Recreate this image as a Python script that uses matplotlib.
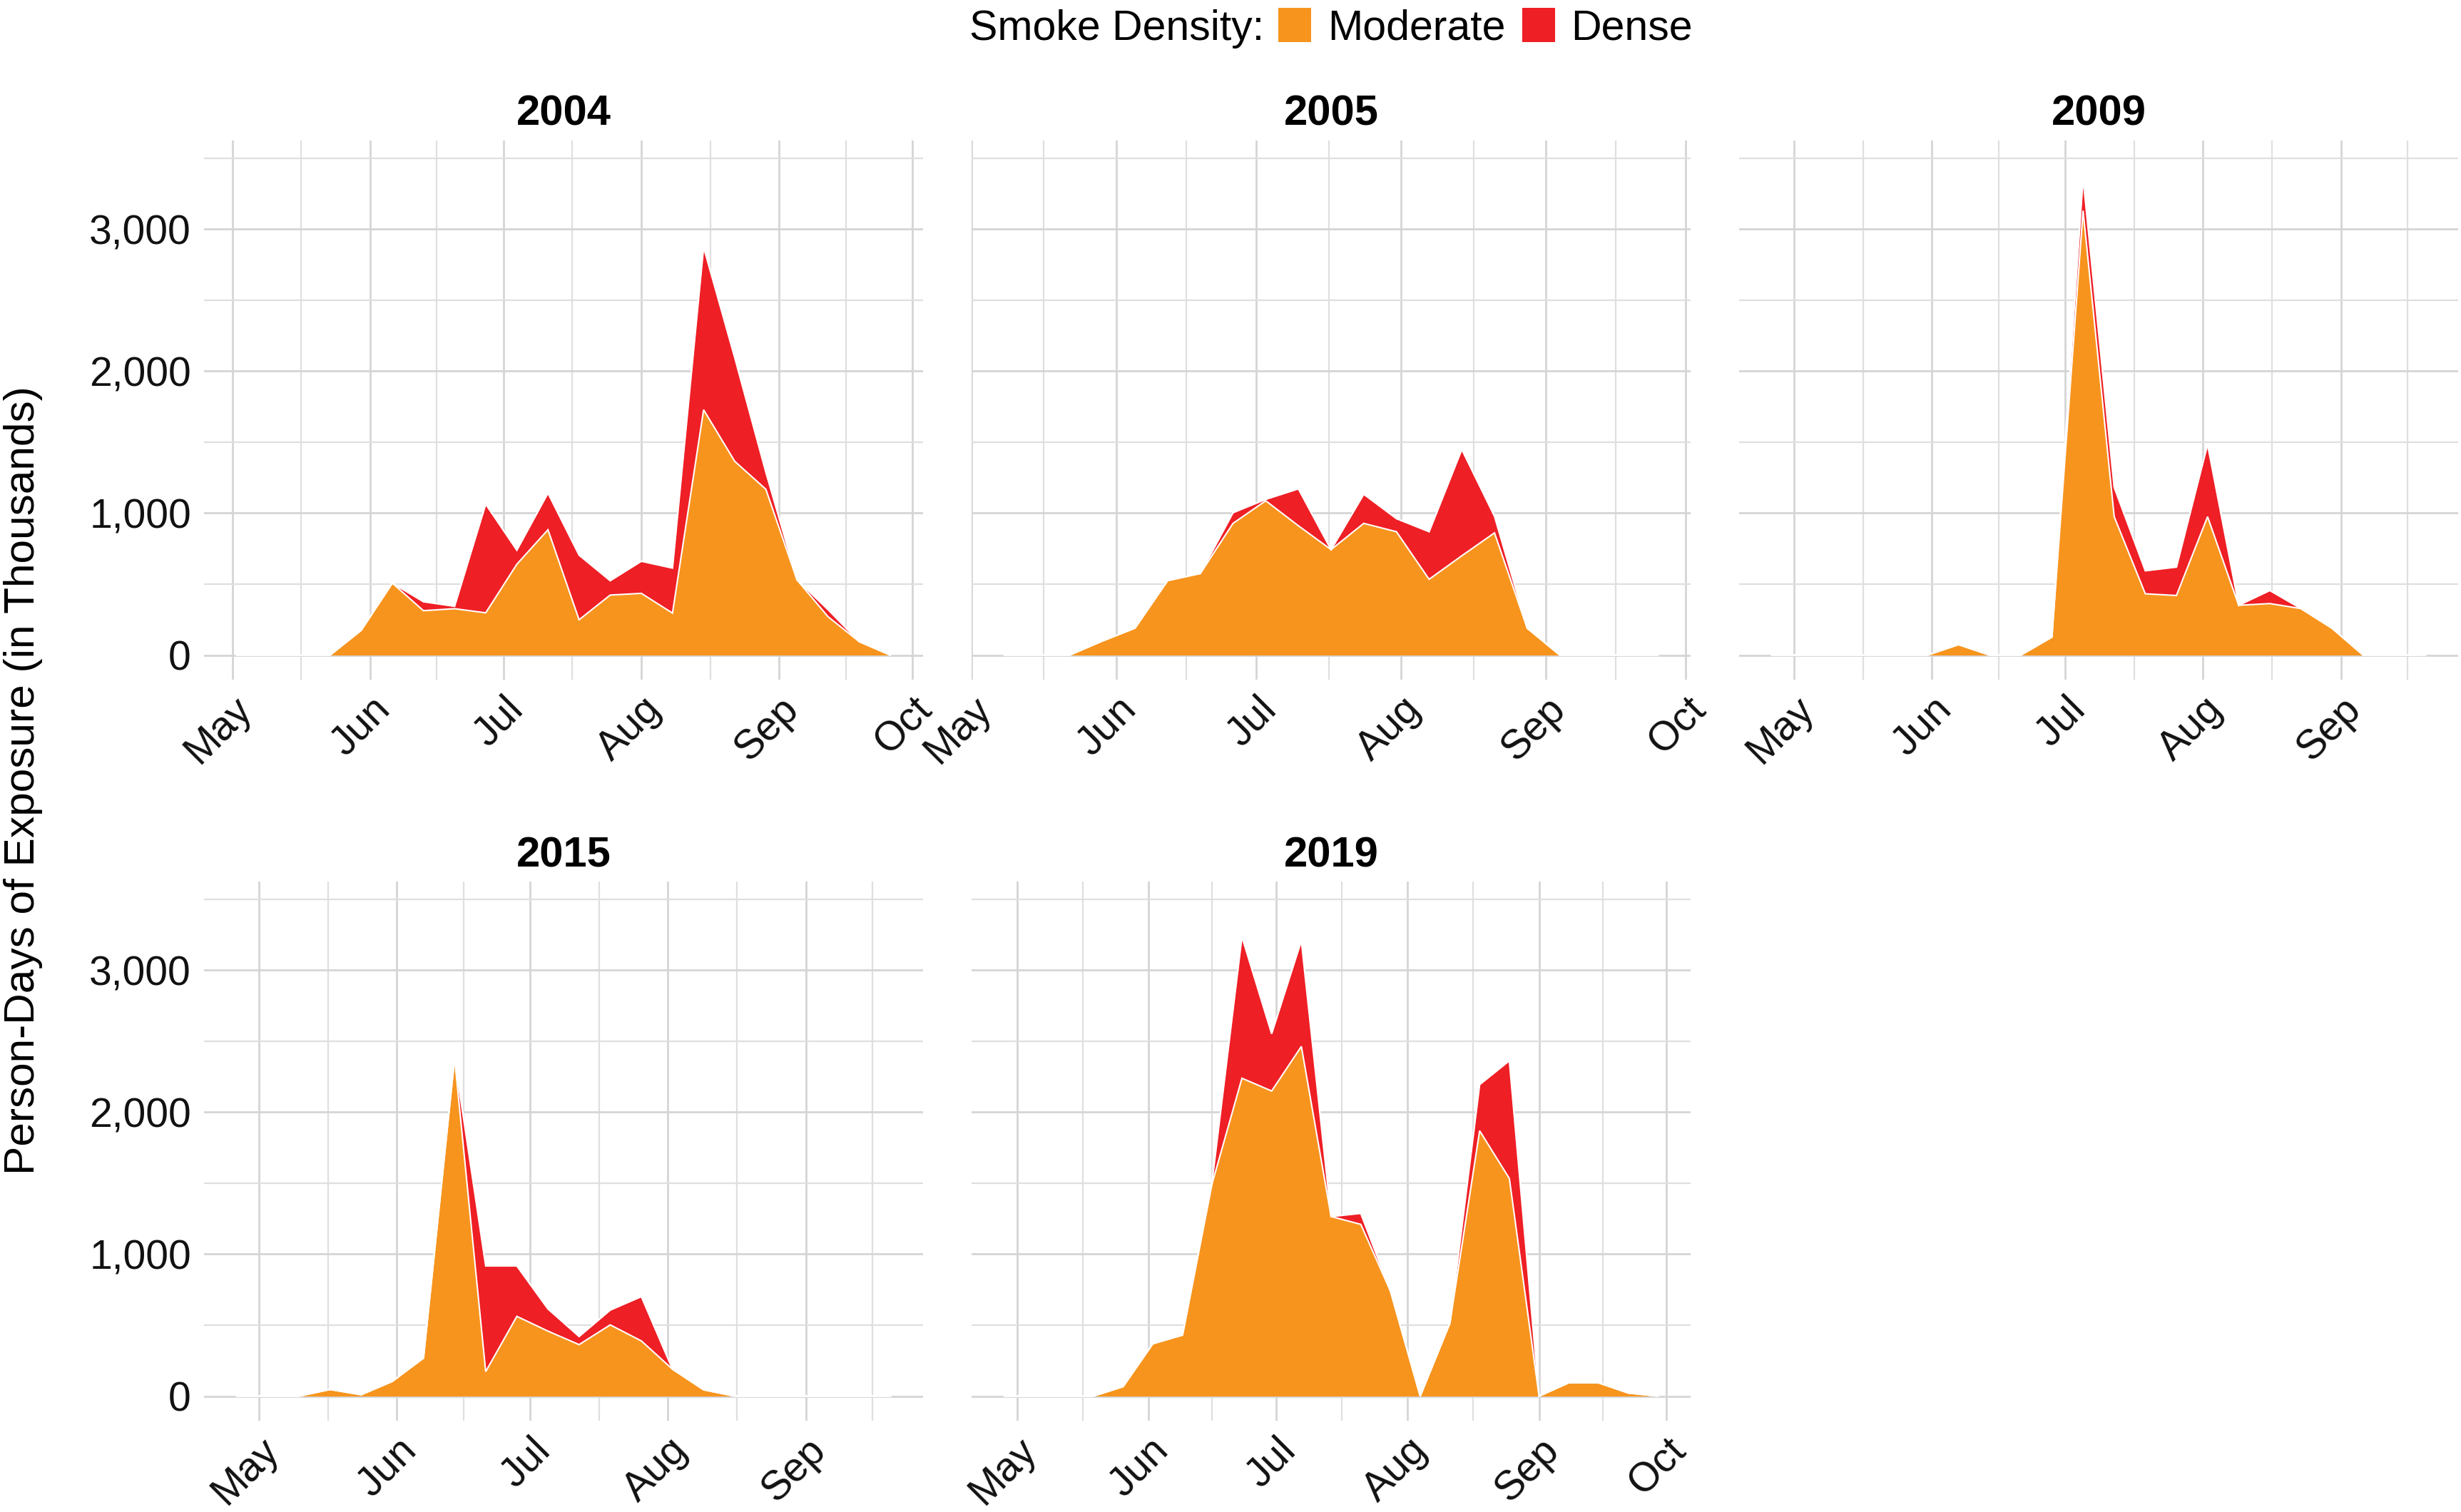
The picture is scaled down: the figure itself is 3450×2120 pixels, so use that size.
import matplotlib
matplotlib.use("Agg")
import matplotlib.pyplot as plt
import matplotlib.dates as mdates
import numpy as np
import pandas as pd
import datetime as dt
from matplotlib.patches import Rectangle

W, H, DPI = 3450, 2120, 100

# ---------------- data (weekly, Sundays; person-days in thousands) ----------------
years = ["2004", "2005", "2009", "2015", "2019"]
start_dates = ["2004-05-02", "2005-05-08", "2009-04-26", "2015-04-26", "2019-04-28"]

moderate_2004 = [0, 0, 0, 0, 175, 507, 313, 327, 298, 640, 883, 249, 423, 435, 296, 1728, 1365, 1168, 530, 270, 95, 0]
dense_2004 = [0, 0, 0, 0, 0, 0, 63, 17, 765, 99, 258, 455, 101, 226, 317, 1145, 730, 120, 0, 50, 0, 0]

moderate_2005 = [0, 0, 0, 99, 190, 525, 575, 928, 1087, 911, 743, 928, 869, 534, 700, 861, 190, 0, 0, 0, 0]
dense_2005 = [0, 0, 0, 0, 0, 0, 0, 75, 10, 260, 0, 205, 92, 335, 748, 117, 0, 0, 0, 0, 0]

moderate_2009 = [0, 0, 0, 0, 0, 0, 74, 0, 0, 127, 3130, 975, 432, 420, 975, 351, 363, 328, 189, 0, 0, 0]
dense_2009 = [0, 0, 0, 0, 0, 0, 0, 0, 0, 0, 230, 207, 162, 200, 508, 0, 92, 0, 0, 0, 0, 0]

moderate_2015 = [0, 0, 0, 47, 10, 104, 268, 2379, 173, 562, 458, 363, 502, 389, 190, 45, 0, 0, 0, 0, 0, 0]
dense_2015 = [0, 0, 0, 0, 0, 0, 0, 0, 744, 355, 156, 57, 104, 312, 0, 0, 0, 0, 0, 0, 0, 0]

moderate_2019 = [0, 0, 0, 0, 67, 369, 430, 1500, 2239, 2149, 2463, 1265, 1210, 739, 0, 515, 1869, 1533, 0, 94, 94, 22, 0]
dense_2019 = [0, 0, 0, 0, 0, 0, 0, 20, 996, 403, 744, 0, 77, 0, 0, 0, 325, 829, 0, 0, 0, 0, 0]

moderate = [moderate_2004, moderate_2005, moderate_2009, moderate_2015, moderate_2019]
dense = [dense_2004, dense_2005, dense_2009, dense_2015, dense_2019]

series_labels = ["Moderate", "Dense"]
legend_title = "Smoke Density:"
y_label = "Person-Days of Exposure (in Thousands)"
y_major = [0, 1000, 2000, 3000]
y_minor = [500, 1500, 2500, 3500]

# ---------------- style ----------------
ORANGE = "#F7941E"
RED = "#EE1F25"
GRID_MAJ = "#D5D5D5"
GRID_MIN = "#DFDFDF"
TXT = "#111111"
plt.rcParams["font.family"] = ["Liberation Sans", "DejaVu Sans"]

fig = plt.figure(figsize=(W / DPI, H / DPI), dpi=DPI)
fig.patch.set_facecolor("white")


def px_box(left, top, w, h):
    return [left / W, 1 - (top + h) / H, w / W, h / H]


col_left = [286, 1362, 2438]
row_top = [197, 1236]
PW, PH = 1008, 756
YLIM = (-173, 3624)
positions = [(0, 0), (0, 1), (0, 2), (1, 0), (1, 1)]

for i, yr in enumerate(years):
    r, c = positions[i]
    ax = fig.add_axes(px_box(col_left[c], row_top[r], PW, PH))
    mod = np.array(moderate[i], float)
    den = np.array(dense[i], float)
    dates = pd.date_range(start_dates[i], periods=len(mod), freq="7D").to_pydatetime()
    x = mdates.date2num(dates)
    span = x[-1] - x[0]
    xlo, xhi = x[0] - 0.05 * span, x[-1] + 0.05 * span
    ax.set_xlim(xlo, xhi)
    ax.set_ylim(*YLIM)

    y0 = int(yr)
    month_starts = [mdates.date2num(dt.datetime(y0, m, 1)) for m in range(3, 12)]
    majors = [m for m in month_starts if xlo <= m <= xhi]
    minors = [(a + b) / 2 for a, b in zip(month_starts[:-1], month_starts[1:])]
    minors = [m for m in minors if xlo <= m <= xhi]
    ax.set_xticks(majors)
    ax.set_xticks(minors, minor=True)
    ax.set_xticklabels([mdates.num2date(m).strftime("%b") for m in majors])
    ax.set_yticks(y_major)
    ax.set_yticks(y_minor, minor=True)

    ax.set_axisbelow(True)
    ax.grid(which="major", color=GRID_MAJ, lw=2.0)
    ax.grid(which="minor", color=GRID_MIN, lw=1.6)
    for s in ax.spines.values():
        s.set_visible(False)

    ax.fill_between(x, 0, mod, color=ORANGE, lw=0, zorder=2)
    ax.fill_between(x, mod, mod + den, color=RED, lw=0, zorder=2)
    ax.plot(x, mod + den, color="white", lw=1.6, zorder=3, solid_joinstyle="miter")
    ax.plot(x, mod, color="white", lw=1.5, zorder=3, solid_joinstyle="miter")

    ax.tick_params(axis="both", which="both", length=0)
    ax.tick_params(axis="x", pad=10, labelsize=41, labelcolor=TXT)
    ax.tick_params(axis="y", pad=13, labelsize=41, labelcolor=TXT)
    for lab in ax.get_xticklabels():
        lab.set_rotation(45)
        lab.set_ha("right")
        lab.set_va("top")
        lab.set_rotation_mode("anchor")
    if c == 0:
        ax.set_yticklabels([f"{v:,}" for v in y_major])
    else:
        ax.set_yticklabels([])

    fig.text((col_left[c] + PW / 2) / W, 1 - (row_top[r] - 21) / H, yr,
             ha="center", va="baseline", fontsize=43, fontweight="bold", color="black")

fig.text(48 / W, 1 - 1094 / H, y_label, rotation=90, rotation_mode="anchor",
         ha="center", va="baseline", fontsize=43.5, color="black")

# ---------------- legend (top, centred over panels) ----------------
renderer = fig.canvas.get_renderer()
base_y = 1 - 56 / H
fs = 42.5
t_title = fig.text(0, base_y, legend_title, ha="left", va="baseline", fontsize=fs, color="black")
t_mod = fig.text(0, base_y, series_labels[0], ha="left", va="baseline", fontsize=fs, color="black")
t_den = fig.text(0, base_y, series_labels[1], ha="left", va="baseline", fontsize=fs, color="black")
w_title = t_title.get_window_extent(renderer).width
w_mod = t_mod.get_window_extent(renderer).width
w_den = t_den.get_window_extent(renderer).width
KEY_W, KEY_H, G1, G2 = 46, 48, 20, 23
total = w_title + G1 + KEY_W + G2 + w_mod + G2 + KEY_W + G2 + w_den
xcur = 1866 - total / 2
t_title.set_x(xcur / W)
xcur += w_title + G1
fig.patches.append(Rectangle((xcur / W, 1 - 59 / H), KEY_W / W, KEY_H / H,
                             transform=fig.transFigure, facecolor=ORANGE, edgecolor="none"))
xcur += KEY_W + G2
t_mod.set_x(xcur / W)
xcur += w_mod + G2
fig.patches.append(Rectangle((xcur / W, 1 - 59 / H), KEY_W / W, KEY_H / H,
                             transform=fig.transFigure, facecolor=RED, edgecolor="none"))
xcur += KEY_W + G2
t_den.set_x(xcur / W)

fig.savefig("out.png", dpi=DPI, facecolor="white")
